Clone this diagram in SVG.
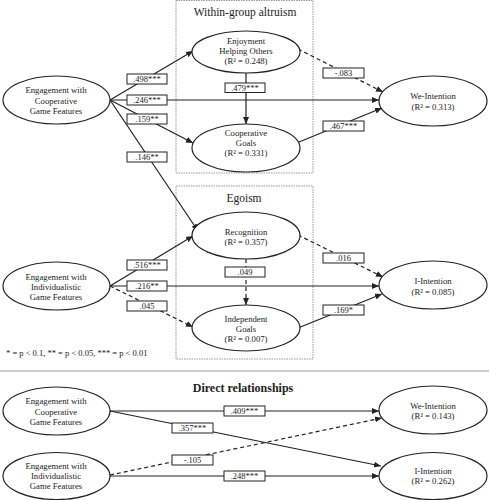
<svg xmlns="http://www.w3.org/2000/svg" width="489" height="500" viewBox="0 0 489 500">
<style>
text{font-family:"Liberation Serif","Times New Roman",serif;fill:#222;text-anchor:middle}
.n{font-size:8.7px}
.l{font-size:8.5px}
.t{font-size:11.5px}
.h{font-size:12px;font-weight:bold}
.lg{font-size:8.5px;text-anchor:start}
ellipse{fill:#fff;stroke:#222;stroke-width:1.2}
.c line{stroke:#222;stroke-width:1.2;fill:none}
.d{stroke-dasharray:4 3}
.g{fill:none;stroke:#999;stroke-width:1;stroke-dasharray:1.5 1}
.b rect{fill:#fff;stroke:#222;stroke-width:1}
</style>
<defs>
<marker id="a" markerWidth="8" markerHeight="8" refX="7" refY="4" orient="auto" markerUnits="userSpaceOnUse">
<path d="M0,1 L7,4 L0,7 Z" fill="#222"/>
</marker>
</defs>
<rect id="g1" class="g" x="176" y="0.5" width="137" height="172.5"/>
<rect id="g2" class="g" x="176" y="186" width="137" height="173"/>
<text class="t" x="245" y="15.5">Within-group altruism</text>
<text class="t" x="244" y="202">Egoism</text>
<text class="lg" x="6" y="356">* = p &lt; 0.1, ** = p &lt; 0.05, *** = p &lt; 0.01</text>
<line x1="0" y1="371" x2="489" y2="371" stroke="#999" stroke-width="1.2"/>
<text class="h" x="243" y="392">Direct relationships</text>
<g id="connectors" class="c">
<line x1="110" y1="100" x2="193" y2="51" marker-end="url(#a)"/>
<line x1="110" y1="100" x2="379" y2="100" marker-end="url(#a)"/>
<line x1="110" y1="100" x2="193" y2="143" marker-end="url(#a)"/>
<line x1="110" y1="100" x2="198" y2="231" marker-end="url(#a)"/>
<line x1="246" y1="73" x2="246" y2="124" marker-end="url(#a)"/>
<line class="d" x1="298" y1="49" x2="383" y2="92" marker-end="url(#a)"/>
<line x1="299" y1="142" x2="382" y2="108" marker-end="url(#a)"/>
<line x1="110" y1="286" x2="193" y2="236" marker-end="url(#a)"/>
<line x1="110" y1="286" x2="379" y2="286" marker-end="url(#a)"/>
<line class="d" x1="110" y1="286" x2="193" y2="327" marker-end="url(#a)"/>
<line class="d" x1="246" y1="259" x2="246" y2="305" marker-end="url(#a)"/>
<line class="d" x1="298" y1="235" x2="383" y2="277" marker-end="url(#a)"/>
<line x1="298" y1="328" x2="382" y2="294" marker-end="url(#a)"/>
<line x1="110" y1="411" x2="379" y2="411" marker-end="url(#a)"/>
<line x1="110" y1="411" x2="381" y2="466" marker-end="url(#a)"/>
<line class="d" x1="110" y1="475" x2="382" y2="418" marker-end="url(#a)"/>
<line x1="110" y1="476" x2="379" y2="476" marker-end="url(#a)"/>
</g>
<g id="labels" class="b">
<rect x="127" y="74" width="40" height="10"/><text class="l" x="147" y="82">.498***</text>
<rect x="127" y="95" width="40" height="10"/><text class="l" x="147" y="103">.246***</text>
<rect x="127" y="114" width="40" height="10"/><text class="l" x="147" y="122">.159**</text>
<rect x="127" y="152" width="40" height="10"/><text class="l" x="147" y="160">.146**</text>
<rect x="225" y="83" width="40" height="9.5"/><text class="l" x="245" y="90.5">.479***</text>
<rect x="323" y="68" width="41" height="10"/><text class="l" x="343.5" y="76">-.083</text>
<rect x="323" y="121" width="41" height="10"/><text class="l" x="343.5" y="129">.467***</text>
<rect x="127" y="260" width="40" height="10"/><text class="l" x="147" y="268">.516***</text>
<rect x="127" y="281" width="40" height="10"/><text class="l" x="147" y="289">.216**</text>
<rect x="127" y="301" width="40" height="10"/><text class="l" x="147" y="309">.045</text>
<rect x="225" y="267" width="40" height="10"/><text class="l" x="245" y="275">.049</text>
<rect x="323" y="253" width="41" height="10"/><text class="l" x="343.5" y="261">.016</text>
<rect x="323" y="305" width="41" height="10"/><text class="l" x="343.5" y="313">.169*</text>
<rect x="224" y="406" width="41" height="10"/><text class="l" x="244.5" y="414">.409***</text>
<rect x="172" y="423" width="41" height="10"/><text class="l" x="192.5" y="431">.357***</text>
<rect x="172" y="455" width="41" height="10"/><text class="l" x="192.5" y="463">-.105</text>
<rect x="224" y="471" width="41" height="10"/><text class="l" x="244.5" y="479">.248***</text>
</g>
<g id="coop1"><ellipse cx="56.5" cy="100" rx="53.5" ry="24"/>
<text class="n" x="56" y="93">Engagement with</text><text class="n" x="56" y="103.5">Cooperative</text><text class="n" x="56" y="114">Game Features</text></g>
<g id="enjoy"><ellipse cx="246" cy="52" rx="54" ry="21"/>
<text class="n" x="246" y="44">Enjoyment</text><text class="n" x="246" y="54">Helping Others</text><text class="n" x="246" y="64">(R² = 0.248)</text></g>
<g id="coopgoals"><ellipse cx="246" cy="148" rx="54" ry="24"/>
<text class="n" x="246" y="136">Cooperative</text><text class="n" x="246" y="146">Goals</text><text class="n" x="246" y="156">(R² = 0.331)</text></g>
<g id="we1"><ellipse cx="433" cy="101" rx="54" ry="25"/>
<text class="n" x="433" y="99">We-Intention</text><text class="n" x="433" y="109.5">(R² = 0.313)</text></g>
<g id="ind1"><ellipse cx="56.5" cy="286" rx="53.5" ry="24"/>
<text class="n" x="56" y="280">Engagement with</text><text class="n" x="56" y="290">Individualistic</text><text class="n" x="56" y="300">Game Features</text></g>
<g id="recog"><ellipse cx="246" cy="235.5" rx="54" ry="23.5"/>
<text class="n" x="246" y="235">Recognition</text><text class="n" x="246" y="245">(R² = 0.357)</text></g>
<g id="indgoals"><ellipse cx="246" cy="328" rx="54" ry="23"/>
<text class="n" x="246" y="322">Independent</text><text class="n" x="246" y="332">Goals</text><text class="n" x="246" y="342">(R² = 0.007)</text></g>
<g id="i1"><ellipse cx="433" cy="285" rx="54" ry="24"/>
<text class="n" x="433" y="284">I-Intention</text><text class="n" x="433" y="294.5">(R² = 0.085)</text></g>
<g id="coop2"><ellipse cx="56.5" cy="411" rx="53.5" ry="24"/>
<text class="n" x="56" y="404">Engagement with</text><text class="n" x="56" y="414.5">Cooperative</text><text class="n" x="56" y="425">Game Features</text></g>
<g id="ind2"><ellipse cx="56.5" cy="476" rx="53.5" ry="23.5"/>
<text class="n" x="56" y="469">Engagement with</text><text class="n" x="56" y="479">Individualistic</text><text class="n" x="56" y="489">Game Features</text></g>
<g id="we2"><ellipse cx="433" cy="410" rx="54" ry="24"/>
<text class="n" x="433" y="409">We-Intention</text><text class="n" x="433" y="419">(R² = 0.143)</text></g>
<g id="i2"><ellipse cx="433" cy="476" rx="54" ry="23.5"/>
<text class="n" x="433" y="474">I-Intention</text><text class="n" x="433" y="484">(R² = 0.262)</text></g>
</svg>
